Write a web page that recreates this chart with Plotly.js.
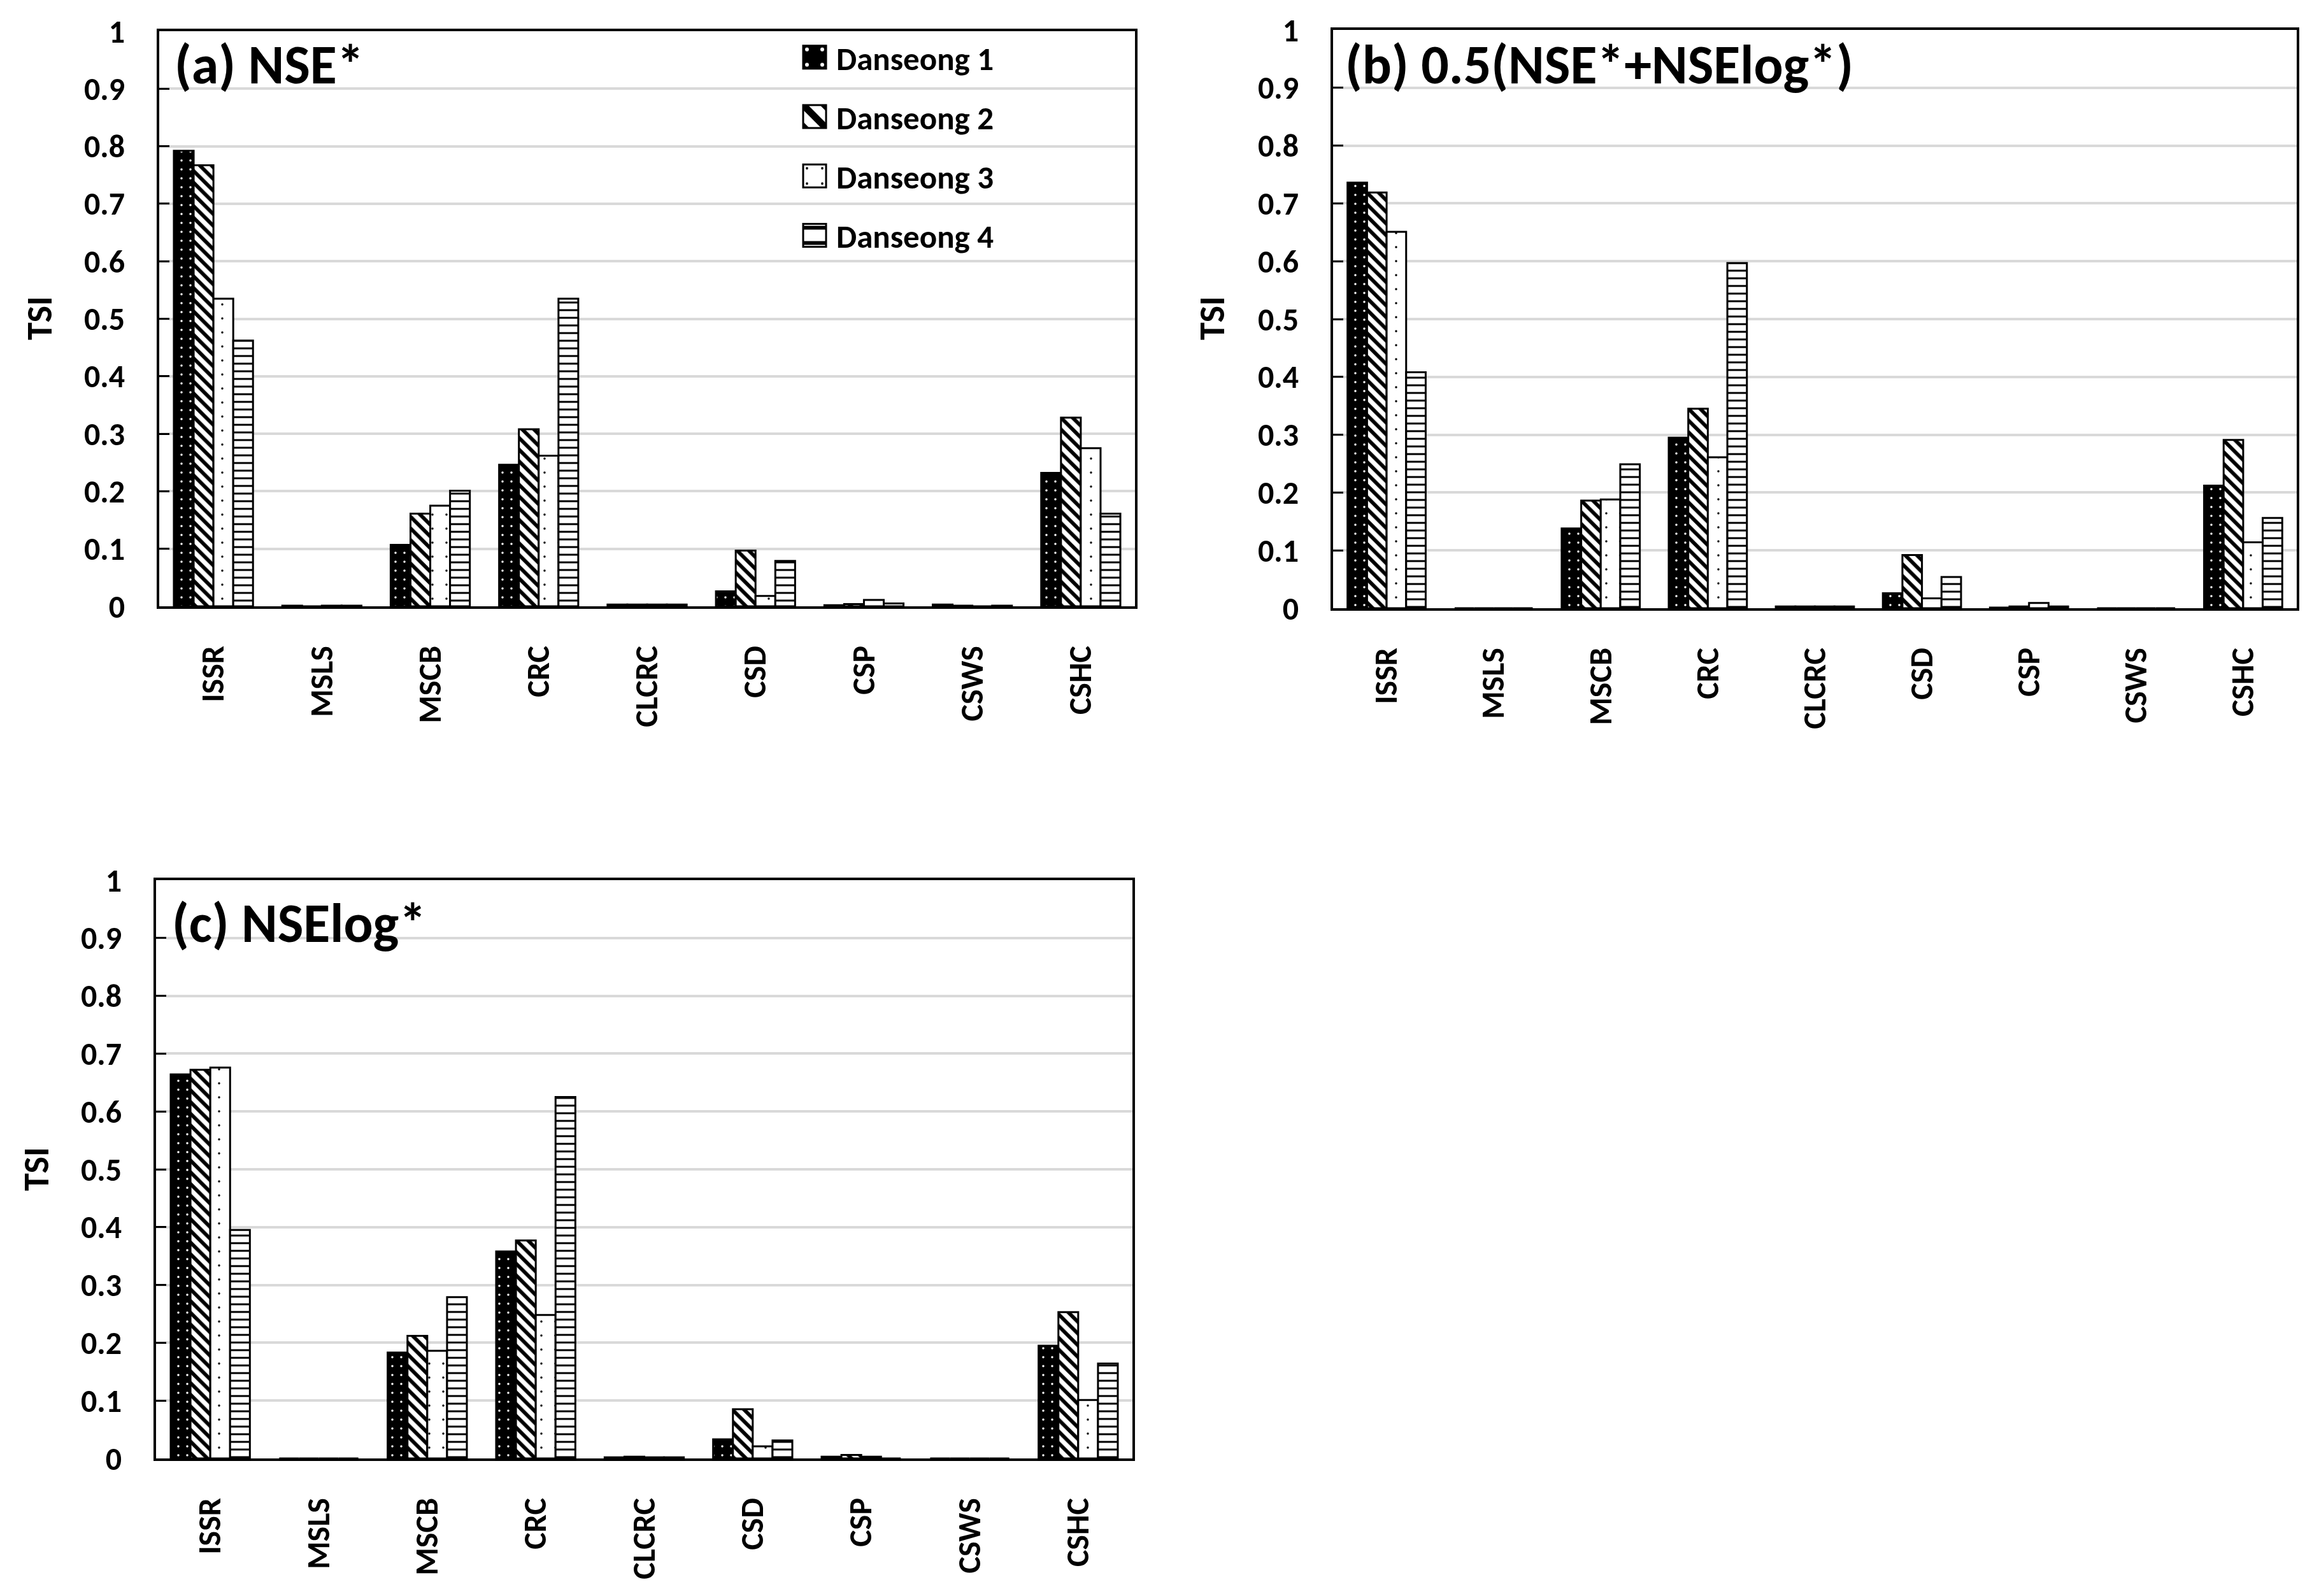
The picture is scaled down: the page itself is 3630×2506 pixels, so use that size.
<!DOCTYPE html>
<html><head><meta charset="utf-8">
<script src="https://cdn.plot.ly/plotly-3.0.1.min.js"></script>
<style>html,body{margin:0;padding:0;background:#fff}</style>
</head><body>
<div id="chart" style="width:3630px;height:2506px"></div>
<script>
// ---------- data ----------
const categories = ['ISSR','MSLS','MSCB','CRC','CLCRC','CSD','CSP','CSWS','CSHC'];
const seriesNames = ['Danseong 1','Danseong 2','Danseong 3','Danseong 4'];
const yTickVals = [0,0.1,0.2,0.3,0.4,0.5,0.6,0.7,0.8,0.9,1];
const yTickText = ['0','0.1','0.2','0.3','0.4','0.5','0.6','0.7','0.8','0.9','1'];
const panelTitles = ['(a) NSE*','(b) 0.5(NSE*+NSElog*)','(c) NSElog*'];
const yTitle = 'TSI';

// (a) NSE*
const nseD1 = [0.792, 0.001, 0.107, 0.246, 0.003, 0.026, 0.002, 0.003, 0.232];
const nseD2 = [0.767, -0.002, 0.161, 0.308, 0.003, 0.097, 0.004, 0.001, 0.328];
const nseD3 = [0.535, 0.001, 0.175, 0.262, 0.003, 0.018, 0.011, -0.002, 0.275];
const nseD4 = [0.462, 0.001, 0.201, 0.535, 0.003, 0.079, 0.005, 0.001, 0.161];
// (b) 0.5(NSE*+NSElog*)
const mixD1 = [0.736, 0.000, 0.138, 0.295, 0.003, 0.026, 0.001, 0.000, 0.212];
const mixD2 = [0.719, 0.000, 0.186, 0.345, 0.003, 0.092, 0.003, 0.000, 0.291];
const mixD3 = [0.651, 0.000, 0.188, 0.261, 0.003, 0.017, 0.009, 0.000, 0.114];
const mixD4 = [0.408, 0.000, 0.249, 0.597, 0.003, 0.054, 0.003, 0.000, 0.156];
// (c) NSElog*
const logD1 = [0.664, 0.000, 0.183, 0.358, 0.002, 0.033, 0.003, 0.000, 0.195];
const logD2 = [0.672, 0.000, 0.212, 0.377, 0.003, 0.085, 0.006, 0.000, 0.253];
const logD3 = [0.676, 0.000, 0.186, 0.248, 0.002, 0.021, 0.003, 0.000, 0.101];
const logD4 = [0.395, 0.000, 0.279, 0.625, 0.002, 0.031, 0.000, 0.000, 0.164];

const panelData = [
  [nseD1, nseD2, nseD3, nseD4],
  [mixD1, mixD2, mixD3, mixD4],
  [logD1, logD2, logD3, logD4]
];

// ---------- styles ----------
const FONT = 'Carlito, Lato, "Open Sans", sans-serif';
const markerStyles = [
  {color:'#000000', line:{color:'#000000', width:3},
   pattern:{shape:'.', bgcolor:'#000000', fgcolor:'#ffffff', size:14, solidity:0.05, fillmode:'replace'}},
  {color:'#ffffff', line:{color:'#000000', width:3},
   pattern:{shape:'\\', bgcolor:'#ffffff', fgcolor:'#000000', size:13, solidity:0.45, fillmode:'replace'}},
  {color:'#ffffff', line:{color:'#000000', width:3},
   pattern:{shape:'.', bgcolor:'#ffffff', fgcolor:'#000000', size:22, solidity:0.02, fillmode:'replace'}},
  {color:'#ffffff', line:{color:'#000000', width:3},
   pattern:{shape:'-', bgcolor:'#ffffff', fgcolor:'#000000', size:12, solidity:0.25, fillmode:'replace'}}
];

const axSuffix = ['', '2', '3'];
const traces = [];
panelData.forEach((series, p) => {
  series.forEach((vals, s) => {
    traces.push({
      type:'bar', x:categories, y:vals, name:seriesNames[s],
      xaxis:'x'+axSuffix[p], yaxis:'y'+axSuffix[p],
      marker: markerStyles[s],
      legendgroup:'g'+s, showlegend: p===0,
      hoverinfo:'skip'
    });
  });
});

const W = 3630, H = 2506;
const px = v => v / W;
const py = v => 1 - v / H;
const domains = [
  {x:[px(250), px(1782)], y:[py(952), py(49)]},
  {x:[px(2093), px(3606)], y:[py(955), py(47)]},
  {x:[px(245), px(1778)], y:[py(2290), py(1382)]}
];

function xAxis(d, anchor){
  return {domain:d, anchor:anchor, type:'category', range:[-0.5, 8.5],
    showline:true, linecolor:'#000', linewidth:4, mirror:true,
    showgrid:false, zeroline:false, ticks:'', tickangle:-90,
    ticklabelstandoff:38,
    tickfont:{family:FONT, size:50, color:'#000', weight:'bold'}, fixedrange:true};
}
function yAxis(d, anchor){
  return {domain:d, anchor:anchor, range:[0,1], tickvals:yTickVals, ticktext:yTickText,
    showline:true, linecolor:'#000', linewidth:4, mirror:true,
    showgrid:true, gridcolor:'#d9d9d9', gridwidth:4, zeroline:false,
    ticks:'inside', ticklen:16, tickwidth:3, tickcolor:'#000',
    ticklabelstandoff:40,
    tickfont:{family:FONT, size:50, color:'#000', weight:'bold'}, fixedrange:true};
}

const titleFont = {family:FONT, size:86, color:'#000', weight:'bold'};
const axTitleFont = {family:FONT, size:56, color:'#000', weight:'bold'};

const layout = {
  width:W, height:H, margin:{l:0,r:0,t:0,b:0},
  paper_bgcolor:'#fff', plot_bgcolor:'#fff',
  barmode:'group', bargap:0.27, bargroupgap:0,
  showlegend:true,
  legend:{x:px(1273), xanchor:'left', y:py(50), yanchor:'top',
    bgcolor:'rgba(0,0,0,0)', borderwidth:0, tracegroupgap:24,
    font:{family:FONT, size:51, color:'#000', weight:'bold'}},
  xaxis: xAxis(domains[0].x, 'y'), yaxis: yAxis(domains[0].y, 'x'),
  xaxis2: xAxis(domains[1].x, 'y2'), yaxis2: yAxis(domains[1].y, 'x2'),
  xaxis3: xAxis(domains[2].x, 'y3'), yaxis3: yAxis(domains[2].y, 'x3'),
  annotations: [
    {text:panelTitles[0], xref:'paper', yref:'paper', x:px(272), y:py(47), xanchor:'left', yanchor:'top', showarrow:false, font:titleFont},
    {text:panelTitles[1], xref:'paper', yref:'paper', x:px(2110), y:py(47), xanchor:'left', yanchor:'top', showarrow:false, font:titleFont},
    {text:panelTitles[2], xref:'paper', yref:'paper', x:px(268), y:py(1395), xanchor:'left', yanchor:'top', showarrow:false, font:titleFont},
    {text:yTitle, xref:'paper', yref:'paper', x:px(62), y:py(500), xanchor:'center', yanchor:'middle', textangle:-90, showarrow:false, font:axTitleFont},
    {text:yTitle, xref:'paper', yref:'paper', x:px(1903), y:py(500), xanchor:'center', yanchor:'middle', textangle:-90, showarrow:false, font:axTitleFont},
    {text:yTitle, xref:'paper', yref:'paper', x:px(57), y:py(1836), xanchor:'center', yanchor:'middle', textangle:-90, showarrow:false, font:axTitleFont}
  ]
};

Plotly.newPlot('chart', traces, layout, {staticPlot:true, displayModeBar:false}).then(() => {
  document.querySelectorAll('.legend [clip-path]').forEach(el => el.removeAttribute('clip-path'));
  document.querySelectorAll('.legend .legendpoints path').forEach(p => {
    p.setAttribute('transform', 'translate(6,0) scale(3)');
    p.style.strokeWidth = '1px';
  });
});
</script>
</body></html>
